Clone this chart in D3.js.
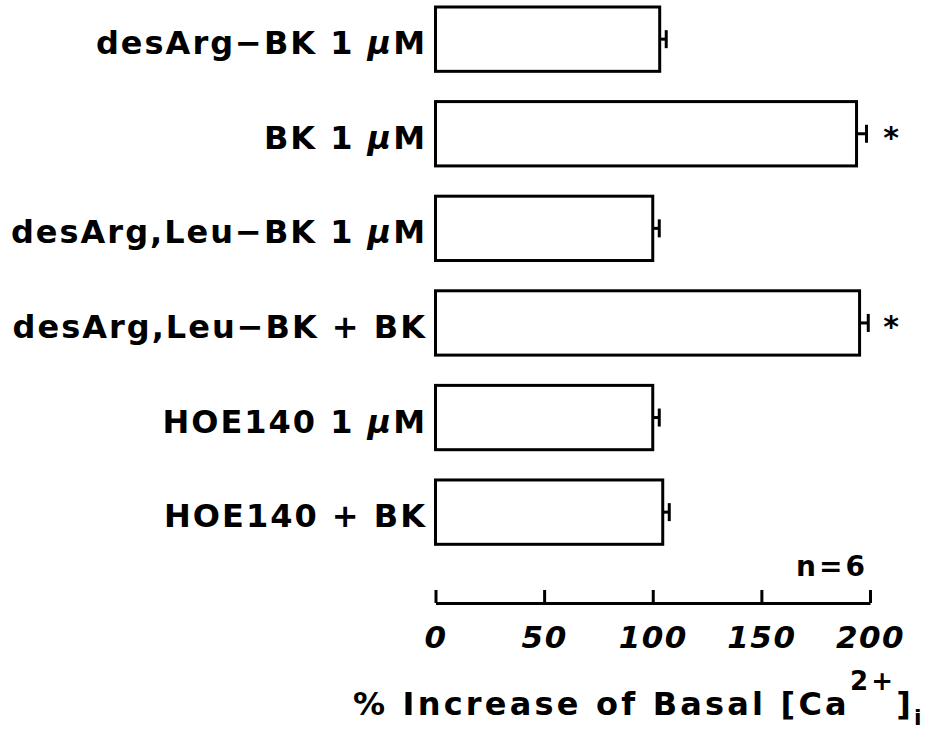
<!DOCTYPE html>
<html>
<head>
<meta charset="utf-8">
<script type="text/javascript" src="https://cdn.jsdelivr.net/npm/d3@7/dist/d3.min.js"></script>
<style>
    body { margin: 0; background: #fff; }
    svg text {
        font-family: 'DejaVu Sans', Verdana, sans-serif;
        font-weight: bold;
        fill: #000;
    }
</style>
</head>
<body>
<svg id="chart" width="939" height="732"></svg>
<script type="text/javascript">
    // data
    var labels = ["desArg\u2212BK 1 ", "BK 1 ", "desArg,Leu\u2212BK 1 ", "desArg,Leu\u2212BK + BK", "HOE140 1 ", "HOE140 + BK"];
    var micro = [true, true, true, false, true, false];   // label ends in italic "µM"
    var values = [103.2, 193.8, 100.0, 195.2, 100.0, 104.6];
    var errors = [3, 4.6, 3, 4, 3, 3];
    var signif = [false, true, false, true, false, false];
    var ticks = [0, 50, 100, 150, 200];

    var svg = d3.select("#chart");

    var x = d3.scaleLinear().domain([0, 200]).range([435.5, 870]);
    var y = d3.scaleBand().domain(d3.range(labels.length))
        .range([7, 544.3]).paddingInner(0.32).paddingOuter(0);

    var rows = svg.selectAll("g.row")
        .data(values)
        .enter()
        .append("g")
        .attr("class", "row")
        .attr("transform", function(d, i) { return "translate(0," + y(i) + ")"; });

    // bars
    rows.append("rect")
        .attr("x", x(0))
        .attr("y", 0)
        .attr("width", function(d) { return x(d) - x(0); })
        .attr("height", y.bandwidth())
        .attr("fill", "#fff")
        .attr("stroke", "#000")
        .attr("stroke-width", 3);

    // error bars
    var mid = y.bandwidth() / 2;
    rows.append("line")
        .attr("x1", function(d) { return x(d); })
        .attr("x2", function(d, i) { return x(d + errors[i]); })
        .attr("y1", mid).attr("y2", mid)
        .attr("stroke", "#000").attr("stroke-width", 3);
    rows.append("line")
        .attr("x1", function(d, i) { return x(d + errors[i]); })
        .attr("x2", function(d, i) { return x(d + errors[i]); })
        .attr("y1", mid - 9).attr("y2", mid + 9)
        .attr("stroke", "#000").attr("stroke-width", 3);

    // asterisks
    rows.filter(function(d, i) { return signif[i]; })
        .append("text")
        .attr("x", 891)
        .attr("y", mid + 14)
        .attr("text-anchor", "middle")
        .style("font-size", "30px")
        .text("*");

    // category labels
    var lab = rows.append("text")
        .attr("x", 427)
        .attr("y", mid + 15)
        .attr("text-anchor", "end")
        .style("font-size", "32px")
        .style("letter-spacing", "2px");
    lab.append("tspan").text(function(d, i) { return labels[i]; });
    lab.filter(function(d, i) { return micro[i]; })
        .append("tspan").style("font-style", "italic").text("\u03bc");
    lab.filter(function(d, i) { return micro[i]; })
        .append("tspan").text("M");

    // x axis
    var axis = svg.append("g")
        .attr("transform", "translate(0,603)")
        .call(d3.axisBottom(x).tickValues(ticks).tickSizeInner(-13).tickSizeOuter(0).tickPadding(23));
    axis.select(".domain").attr("stroke-width", 3);
    axis.selectAll(".tick line").attr("stroke-width", 3);
    axis.selectAll(".tick text")
        .style("font-size", "31px")
        .style("font-style", "italic")
        .style("letter-spacing", "1.5px")
        .style("font-family", "'DejaVu Sans', Verdana, sans-serif");

    svg.append("text")
        .attr("x", 868)
        .attr("y", 576)
        .attr("text-anchor", "end")
        .style("font-size", "28px")
        .style("letter-spacing", "3px")
        .text("n=6");

    // axis title
    var title = svg.append("text")
        .attr("x", 353)
        .attr("y", 715)
        .style("font-size", "32px")
        .style("letter-spacing", "3.2px");
    title.append("tspan").text("% Increase of Basal [Ca");
    title.append("tspan").attr("dy", -25).style("font-size", "26px").text("2+");
    title.append("tspan").attr("dy", 25).text("]");
    title.append("tspan").attr("dy", 10).style("font-size", "22px").text("i");
</script>
</body>
</html>
